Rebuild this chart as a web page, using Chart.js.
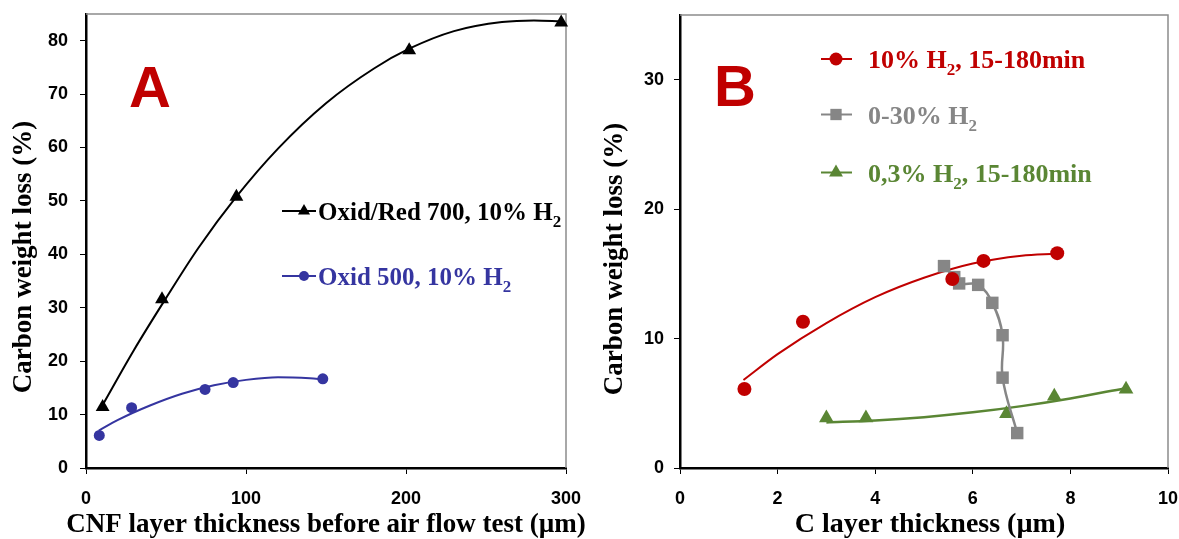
<!DOCTYPE html>
<html>
<head>
<meta charset="utf-8">
<script src="https://cdn.jsdelivr.net/npm/chart.js@4.4.0/dist/chart.umd.min.js"></script>
<style>
  html, body { margin: 0; padding: 0; background: #fff; width: 1179px; height: 539px; overflow: hidden; }
  #wrapA { position: absolute; left: 0; top: 0; width: 590px; height: 539px; }
  #wrapB { position: absolute; left: 590px; top: 0; width: 589px; height: 539px; }
</style>
</head>
<body>
<div id="wrapA"><canvas id="chartA" width="590" height="539"></canvas></div>
<div id="wrapB"><canvas id="chartB" width="589" height="539"></canvas></div>
<script>
// ---- Panel A data ----
const aXTicks = [0, 100, 200, 300];
const aYTicks = [0, 10, 20, 30, 40, 50, 60, 70, 80];
const oxidRedX = [10.4, 47.5, 94, 202, 297];
const oxidRedY = [11.4, 31.6, 50.8, 78.2, 83.4];
const oxid500X = [8.3, 28.5, 74.4, 92, 148];
const oxid500Y = [6.1, 11.3, 14.7, 16.0, 16.7];
// trendlines
const oxidRedFitX = [10, 30, 50, 70, 94, 120, 150, 180, 202, 230, 260, 280, 297];
const oxidRedFitY = [11.6, 22.1, 31.8, 41.1, 50.8, 59.8, 68.3, 74.8, 78.5, 81.8, 83.5, 83.8, 83.6];
const oxid500FitX = [8, 20, 40, 60, 80, 100, 120, 140, 148];
const oxid500FitY = [7.0, 9.0, 11.7, 13.9, 15.5, 16.5, 17.0, 16.8, 16.6];

// ---- Panel B data ----
const bXTicks = [0, 2, 4, 6, 8, 10];
const bYTicks = [0, 10, 20, 30];
const h10X = [1.32, 2.52, 5.58, 6.22, 7.73];
const h10Y = [6.1, 11.3, 14.6, 16.0, 16.6];
const h030X = [5.41, 5.62, 5.72, 6.11, 6.40, 6.61, 6.61, 6.91];
const h030Y = [15.6, 14.75, 14.26, 14.15, 12.76, 10.26, 6.98, 2.7];
const h03X = [3.0, 3.81, 6.69, 7.67, 9.14];
const h03Y = [3.87, 3.87, 4.2, 5.55, 6.09];
const h10FitX = [1.3, 2.0, 3.0, 4.0, 5.0, 6.0, 7.0, 7.7];
const h10FitY = [6.8, 8.8, 11.2, 13.2, 14.7, 15.8, 16.4, 16.55];
const h03FitX = [3.0, 4.0, 5.0, 6.0, 7.0, 8.0, 9.1];
const h03FitY = [3.52, 3.67, 3.93, 4.3, 4.78, 5.37, 6.15];

const BLACK = '#000000';
const BLUE = '#3535a0';
const RED = '#c00000';
const GRAY = '#868686';
const GREEN = '#5a8634';
const SERIF = '"Liberation Serif", "Times New Roman", serif';

function pts(xs, ys) {
  return xs.map((x, i) => ({x: x, y: ys[i]}));
}

const tickFont = {family: '"Liberation Sans", Arial, sans-serif', size: 18, weight: 'bold'};

function makeScales(xMin, xMax, xTicks, yMin, yMax, yTicks, yW, yLabelPad) {
  return {
    x: {
      type: 'linear', min: xMin, max: xMax,
      afterBuildTicks: s => { s.ticks = xTicks.map(v => ({value: v})); },
      afterFit: s => { s.height = 71; s.paddingLeft = 0; s.paddingRight = 0; },
      grid: {drawOnChartArea: false, drawTicks: true, tickLength: 6, color: '#000', lineWidth: 1},
      border: {display: true, color: '#000', width: 2.5},
      ticks: {font: tickFont, color: '#000', padding: 14, maxRotation: 0, autoSkip: false},
      title: {display: false}
    },
    y: {
      type: 'linear', min: yMin, max: yMax,
      afterBuildTicks: s => { s.ticks = yTicks.map(v => ({value: v})); },
      afterFit: s => { s.width = yW; s.paddingTop = 0; s.paddingBottom = 0; },
      grid: {drawOnChartArea: false, drawTicks: true, tickLength: 6, color: '#000', lineWidth: 1},
      border: {display: true, color: '#000', width: 2.5},
      ticks: {font: tickFont, color: '#000', padding: yLabelPad, autoSkip: false},
      title: {display: false}
    }
  };
}

function drawMarker(ctx, style, x, y, r, color) {
  ctx.fillStyle = color;
  ctx.beginPath();
  if (style === 'circle') {
    ctx.arc(x, y, r, 0, Math.PI * 2);
  } else if (style === 'rect') {
    const s = r * Math.SQRT1_2;
    ctx.rect(x - s, y - s, 2 * s, 2 * s);
  } else {
    ctx.moveTo(x, y - r);
    ctx.lineTo(x + r * 0.866, y + r / 2);
    ctx.lineTo(x - r * 0.866, y + r / 2);
    ctx.closePath();
  }
  ctx.fill();
}

function drawRich(ctx, x, y, parts, color, size) {
  ctx.fillStyle = color;
  ctx.textAlign = 'left';
  ctx.textBaseline = 'alphabetic';
  for (const p of parts) {
    const sub = p.startsWith('_');
    const t = sub ? p.slice(1) : p;
    ctx.font = 'bold ' + (sub ? Math.round(size * 0.66) : size) + 'px ' + SERIF;
    ctx.fillText(t, x, sub ? y + size * 0.28 : y);
    x += ctx.measureText(t).width;
  }
}

const decor = {
  id: 'decor',
  beforeDatasetsDraw(chart) {
    const {ctx, chartArea: a} = chart;
    ctx.save();
    ctx.strokeStyle = '#8c8c8c';
    ctx.lineWidth = 1.5;
    ctx.beginPath();
    ctx.moveTo(a.left, a.top);
    ctx.lineTo(a.right, a.top);
    ctx.lineTo(a.right, a.bottom);
    ctx.stroke();
    ctx.restore();
  },
  afterDraw(chart, args, o) {
    const ctx = chart.ctx;
    ctx.save();
    ctx.fillStyle = '#000';
    ctx.textAlign = 'center';
    ctx.textBaseline = 'middle';
    // x axis title
    ctx.font = 'bold ' + o.xTitleSize + 'px ' + SERIF;
    ctx.fillText(o.xTitle, o.xTitleX, o.xTitleY);
    // y axis title
    ctx.save();
    ctx.translate(o.yTitleX, o.yTitleY);
    ctx.rotate(-Math.PI / 2);
    ctx.font = 'bold 27px ' + SERIF;
    ctx.fillText('Carbon weight loss (%)', 0, 0);
    ctx.restore();
    // panel letter
    ctx.font = 'bold 58px "Liberation Sans", Arial, sans-serif';
    ctx.fillStyle = RED;
    ctx.textBaseline = 'alphabetic';
    ctx.textAlign = 'left';
    ctx.fillText(o.letter, o.letterX, o.letterY);
    // legend
    o.legend.forEach(e => {
      const my = e.y - 9;
      ctx.strokeStyle = e.color;
      ctx.lineWidth = 2;
      ctx.beginPath();
      ctx.moveTo(o.lineX0, my);
      ctx.lineTo(o.lineX1, my);
      ctx.stroke();
      drawMarker(ctx, e.style, o.markX, my, e.r, e.color);
      drawRich(ctx, o.textX, e.y, e.parts, e.color, o.size);
    });
    ctx.restore();
  }
};

const markerDs = (xs, ys, color, style, r) => ({
  data: pts(xs, ys), showLine: false, pointStyle: style, pointRadius: r,
  backgroundColor: color, borderColor: color, pointBorderWidth: 0, clip: false
});
const fitDs = (xs, ys, color, w) => ({
  data: pts(xs, ys), showLine: true, pointRadius: 0, borderColor: color,
  borderWidth: w, cubicInterpolationMode: 'monotone', fill: false
});

new Chart(document.getElementById('chartA').getContext('2d'), {
  type: 'scatter',
  data: {
    datasets: [
      markerDs(oxidRedX, oxidRedY, BLACK, 'triangle', 8),
      markerDs(oxid500X, oxid500Y, BLUE, 'circle', 5.5),
      fitDs(oxidRedFitX, oxidRedFitY, BLACK, 2),
      fitDs(oxid500FitX, oxid500FitY, BLUE, 2)
    ]
  },
  options: {
    responsive: false, animation: false, events: [],
    layout: {padding: {left: 0, right: 24, top: 14, bottom: 0}},
    scales: makeScales(0, 300, aXTicks, 0, 85, aYTicks, 86, 12),
    plugins: {
      legend: {display: false}, tooltip: {enabled: false},
      decor: {
        xTitle: 'CNF layer thickness before air flow test (µm)', xTitleSize: 27, xTitleX: 326, xTitleY: 525,
        yTitleX: 24, yTitleY: 257,
        letter: 'A', letterX: 129, letterY: 107,
        lineX0: 282, lineX1: 316, markX: 304, textX: 318, size: 25,
        legend: [
          {parts: ['Oxid/Red 700, 10% H', '_2'], color: BLACK, style: 'triangle', r: 7, y: 220},
          {parts: ['Oxid 500, 10% H', '_2'], color: BLUE, style: 'circle', r: 5, y: 285}
        ]
      }
    }
  },
  plugins: [decor]
});

new Chart(document.getElementById('chartB').getContext('2d'), {
  type: 'scatter',
  data: {
    datasets: [
      markerDs(h10X, h10Y, RED, 'circle', 7),
      Object.assign(markerDs(h030X, h030Y, GRAY, 'rect', 8.8), {showLine: true, borderColor: GRAY, borderWidth: 2.5, tension: 0.4}),
      markerDs(h03X, h03Y, GREEN, 'triangle', 8.5),
      fitDs(h10FitX, h10FitY, RED, 2),
      fitDs(h03FitX, h03FitY, GREEN, 2.5)
    ]
  },
  options: {
    responsive: false, animation: false, events: [],
    layout: {padding: {left: 0, right: 11, top: 15, bottom: 0}},
    scales: makeScales(0, 10, bXTicks, 0, 35, bYTicks, 90, 10),
    plugins: {
      legend: {display: false}, tooltip: {enabled: false},
      decor: {
        xTitle: 'C layer thickness (µm)', xTitleSize: 28, xTitleX: 340, xTitleY: 525,
        yTitleX: 25, yTitleY: 259,
        letter: 'B', letterX: 124, letterY: 106,
        lineX0: 231, lineX1: 262, markX: 246, textX: 278, size: 26,
        legend: [
          {parts: ['10% H', '_2', ', 15-180min'], color: RED, style: 'circle', r: 6.5, y: 68},
          {parts: ['0-30% H', '_2'], color: GRAY, style: 'rect', r: 8, y: 123.5},
          {parts: ['0,3% H', '_2', ', 15-180min'], color: GREEN, style: 'triangle', r: 8, y: 181.5}
        ]
      }
    }
  },
  plugins: [decor]
});
</script>
</body>
</html>
